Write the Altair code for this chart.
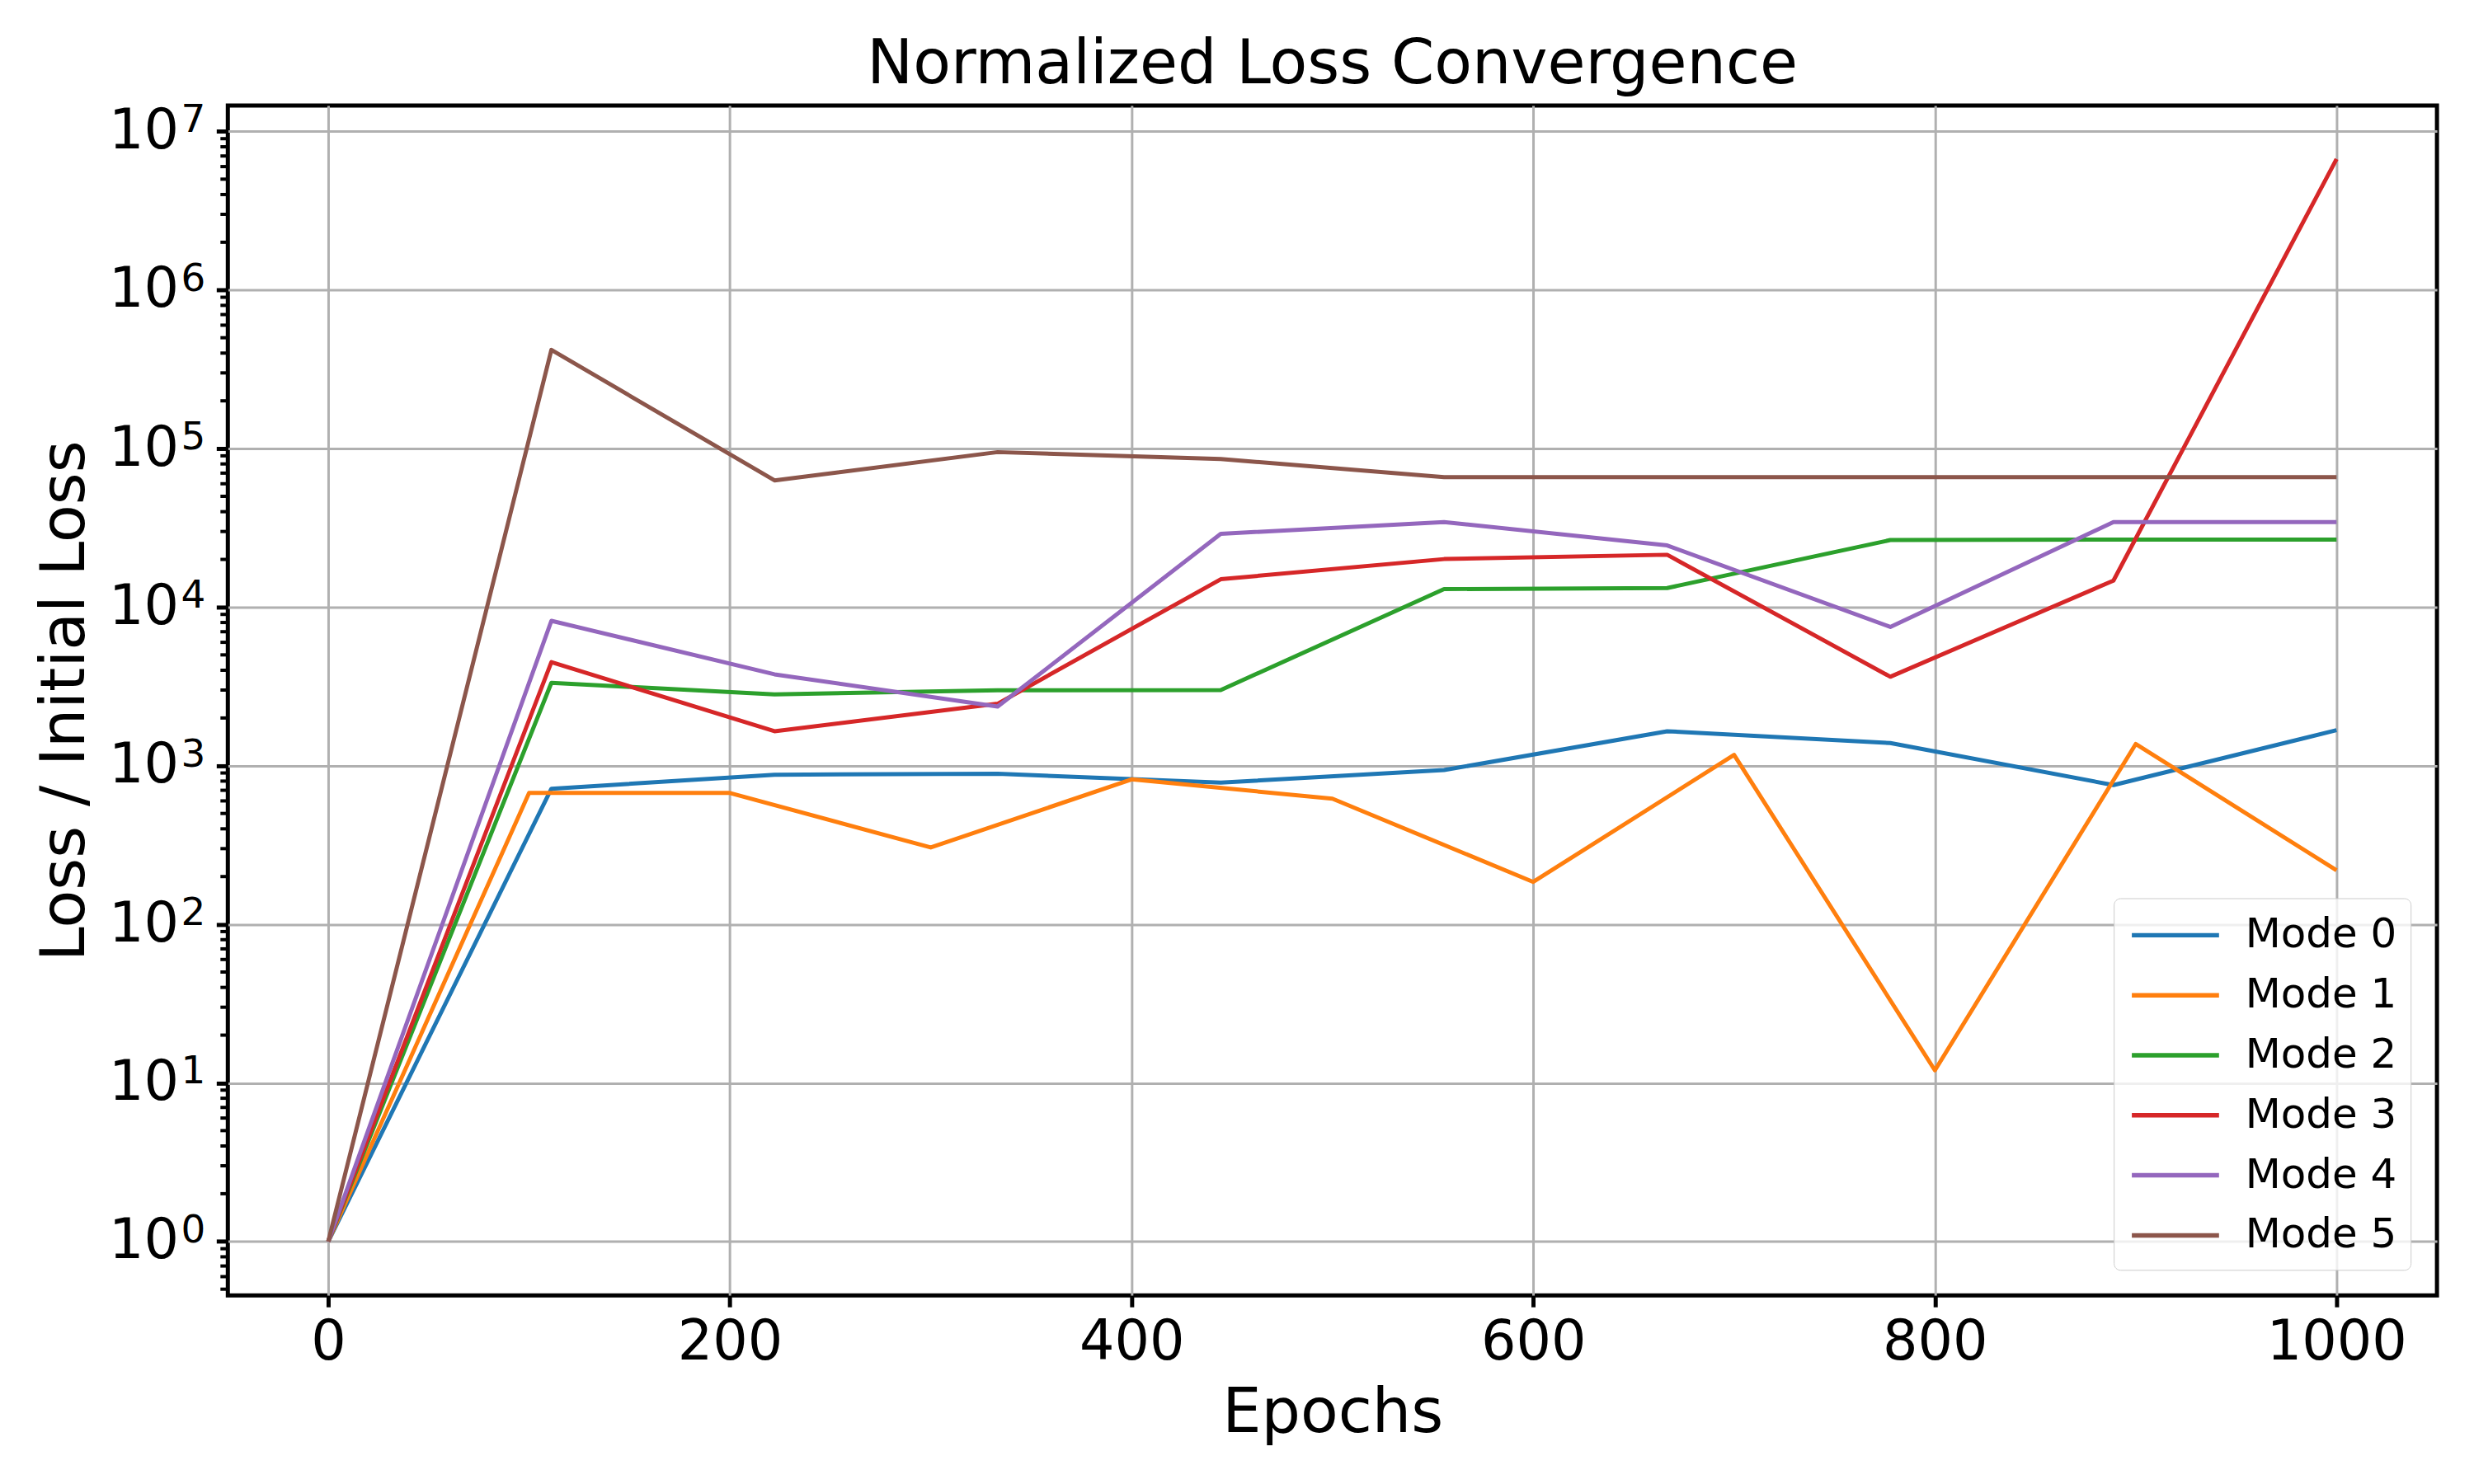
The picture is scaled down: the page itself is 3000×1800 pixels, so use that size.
import altair as alt
import pandas as pd

FONT = "DejaVu Sans"

# epochs at which each mode was logged
epochs_10 = [0, 111.1, 222.2, 333.3, 444.4, 555.6, 666.7, 777.8, 888.9, 1000]
epochs_11 = [0, 100, 200, 300, 400, 500, 600, 700, 800, 900, 1000]

mode_names = ["Mode 0", "Mode 1", "Mode 2", "Mode 3", "Mode 4", "Mode 5"]
mode_colors = ["#1f77b4", "#ff7f0e", "#2ca02c", "#d62728", "#9467bd", "#8c564b"]

mode_0 = [1, 716, 878, 889, 782, 939, 1650, 1390, 755, 1675]
mode_1 = [1, 673, 673, 305, 820, 620, 185, 1170, 12.0, 1370, 219]
mode_2 = [1, 3330, 2820, 2990, 3000, 13000, 13200, 26500, 26700, 26700]
mode_3 = [1, 4500, 1650, 2460, 15000, 20100, 21400, 3640, 14700, 6.7e6]
mode_4 = [1, 8200, 3770, 2360, 29000, 34400, 24500, 7500, 34400, 34400]
mode_5 = [1, 4.19e5, 6.3e4, 9.5e4, 8.6e4, 6.6e4, 6.6e4, 6.6e4, 6.6e4, 6.6e4]

major_exponents = [0, 1, 2, 3, 4, 5, 6, 7]

series = [
    ("Mode 0", epochs_10, mode_0),
    ("Mode 1", epochs_11, mode_1),
    ("Mode 2", epochs_10, mode_2),
    ("Mode 3", epochs_10, mode_3),
    ("Mode 4", epochs_10, mode_4),
    ("Mode 5", epochs_10, mode_5),
]
loss_df = pd.DataFrame(
    [{"epoch": e, "ratio": v, "mode": name} for name, xs, ys in series for e, v in zip(xs, ys)]
)

major_ticks = [10.0 ** k for k in major_exponents]
minor_ticks = [m * 10.0 ** k for k in range(-1, 7) for m in range(2, 10) if m * 10.0 ** k > 0.457]
minor_df = pd.DataFrame({"ratio": minor_ticks})
exp_df = pd.DataFrame({"ratio": major_ticks, "exp": [str(k) for k in major_exponents]})

x_scale = alt.Scale(domain=[-50, 1050], nice=False, zero=False)
y_scale = alt.Scale(type="log", domain=[0.457, 1.455e7], nice=False)

lines = (
    alt.Chart(loss_df)
    .mark_line(strokeWidth=5, strokeJoin="round")
    .encode(
        x=alt.X(
            "epoch:Q",
            scale=x_scale,
            axis=alt.Axis(
                title="Epochs",
                values=[0, 200, 400, 600, 800, 1000],
                format="d",
                domain=False,
                tickSize=14,
                tickWidth=5,
                tickColor="black",
                labelFontSize=67,
                labelFont=FONT,
                labelColor="black",
                labelPadding=10,
                labelFlush=False,
                gridColor="#b0b0b0",
                gridWidth=3,
                titleFontSize=75,
                titleFont=FONT,
                titleFontWeight="normal",
                titleColor="black",
                titleY=166,
                titleBaseline="alphabetic",
            ),
        ),
        y=alt.Y(
            "ratio:Q",
            scale=y_scale,
            axis=alt.Axis(
                title="Loss / Initial Loss",
                values=major_ticks,
                labelExpr="'10'",
                domain=False,
                tickSize=14,
                tickWidth=5,
                tickColor="black",
                labelFontSize=67,
                labelFont=FONT,
                labelColor="black",
                labelPadding=46,
                labelFlush=False,
                gridColor="#b0b0b0",
                gridWidth=3,
                titleFontSize=75,
                titleFont=FONT,
                titleFontWeight="normal",
                titleColor="black",
                titleX=-175,
                titleY=723.5,
                titleAlign="center",
                titleBaseline="alphabetic",
            ),
        ),
        color=alt.Color(
            "mode:N",
            scale=alt.Scale(domain=mode_names, range=mode_colors),
            legend=alt.Legend(
                title=None,
                orient="none",
                legendX=2293,
                legendY=964,
                symbolType="M-2.12,0H2.12",
                symbolSize=2500,
                symbolStrokeWidth=5.5,
                symbolOffset=30,
                labelFontSize=50,
                labelFont=FONT,
                labelColor="black",
                labelOffset=57,
                labelLimit=400,
                rowPadding=20,
                padding=17,
                cornerRadius=8,
                strokeColor="#cccccc",
                fillColor="rgba(255,255,255,0.8)",
            ),
        ),
    )
)

minor = (
    alt.Chart(minor_df)
    .mark_rule(color="black", strokeWidth=4)
    .encode(
        y=alt.Y("ratio:Q", scale=y_scale),
        x=alt.value(-9),
        x2=alt.value(0),
    )
)

exponents = (
    alt.Chart(exp_df)
    .mark_text(align="left", baseline="alphabetic", fontSize=47, font=FONT, color="black", dy=1)
    .encode(
        y=alt.Y("ratio:Q", scale=y_scale),
        x=alt.value(-57),
        text="exp:N",
    )
)

chart = (
    alt.layer(lines, minor, exponents)
    .properties(
        width=2686,
        height=1447,
        padding={"left": 269, "top": 118, "right": 37, "bottom": 227},
        autosize=alt.AutoSizeParams(type="none"),
        title=alt.TitleParams(
            "Normalized Loss Convergence",
            fontSize=75,
            font=FONT,
            fontWeight="normal",
            color="black",
            anchor="middle",
            frame="group",
            baseline="alphabetic",
            offset=-53,
        ),
    )
    .configure_view(stroke="black", strokeWidth=5)
)

chart.save("out.html", embed_options={"renderer": "svg", "actions": False})
